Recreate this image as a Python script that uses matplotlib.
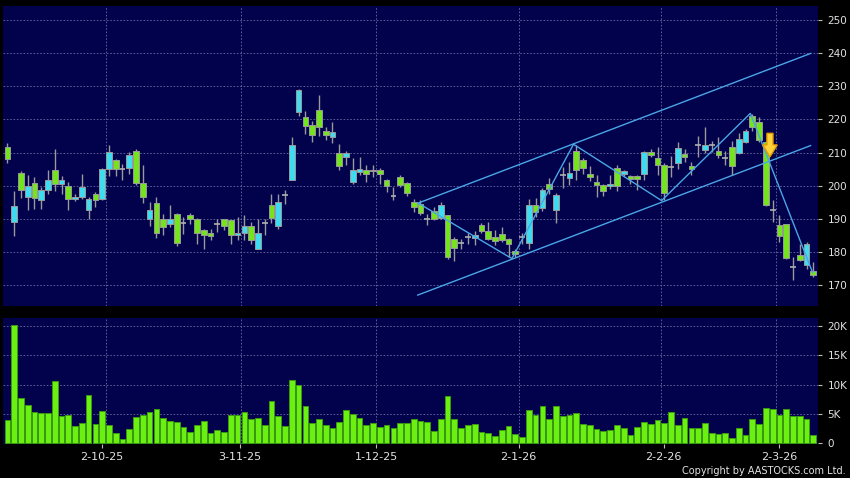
import numpy as np
import matplotlib
matplotlib.use("Agg")
import matplotlib.pyplot as plt
from matplotlib.patches import Polygon

# daily OHLC (one entry per trading day)
opens = [211.8, 188.9, 203.9, 196.6, 200.9, 195.8, 198.6, 204.8, 200.6, 199.9,
         196.0, 196.6, 192.8, 197.6, 196.1, 205.1, 207.8, 205.1, 205.4, 210.6,
         200.9, 190.1, 194.9, 190.1, 188.3, 191.5, 188.6, 191.1, 190.1, 186.5,
         185.8, 188.3, 189.8, 189.5, 185.0, 185.8, 187.9, 181.0, 188.7, 194.3,
         187.7, 197.3, 201.8, 222.1, 220.6, 218.3, 222.8, 216.6, 214.6, 209.9,
         208.6, 201.1, 204.1, 204.8, 204.5, 204.8, 201.8, 197.0, 202.6, 200.9,
         195.0, 194.6, 190.1, 192.4, 190.4, 191.1, 184.0, 182.7, 184.5, 184.3,
         188.0, 186.4, 184.5, 185.5, 184.0, 180.2, 184.5, 182.7, 194.3, 193.4,
         200.6, 192.8, 203.1, 202.4, 210.6, 207.6, 203.6, 201.1, 200.1, 199.8,
         205.3, 203.4, 203.0, 203.0, 203.4, 210.1, 208.3, 206.3, 205.6, 206.8,
         209.5, 205.8, 212.3, 210.8, 212.3, 210.4, 208.3, 211.6, 209.9, 213.3,
         221.1, 219.1, 213.1, 192.6, 188.0, 188.3, 175.5, 179.0, 176.2, 174.3]
highs = [212.8, 198.4, 204.3, 203.1, 202.6, 199.6, 204.8, 211.1, 202.8, 201.1,
         197.4, 203.6, 196.5, 198.0, 205.3, 212.4, 208.2, 206.6, 210.1, 211.1,
         206.1, 195.1, 196.6, 191.5, 194.1, 191.8, 190.6, 191.9, 190.3, 187.0,
         187.0, 189.8, 190.0, 189.7, 190.6, 191.1, 189.0, 190.1, 190.1, 197.6,
         197.6, 198.8, 214.8, 229.2, 222.6, 219.6, 227.4, 217.6, 219.1, 212.6,
         210.6, 208.4, 208.8, 206.1, 206.2, 205.4, 202.0, 199.6, 203.1, 201.0,
         196.1, 195.8, 191.5, 193.6, 195.0, 191.3, 184.5, 184.0, 185.7, 186.4,
         188.6, 188.9, 186.5, 187.4, 184.3, 181.0, 185.8, 196.1, 196.3, 199.4,
         202.4, 197.8, 205.6, 207.1, 212.4, 208.3, 205.8, 203.1, 200.6, 203.1,
         206.1, 204.6, 203.3, 203.3, 210.4, 211.0, 211.6, 206.8, 209.1, 213.1,
         211.0, 207.1, 215.1, 217.6, 213.6, 214.8, 210.6, 213.6, 215.9, 217.1,
         221.6, 220.6, 213.5, 195.6, 191.1, 188.5, 178.5, 182.5, 183.0, 177.0]
lows = [206.7, 184.7, 196.4, 192.8, 193.1, 193.1, 197.4, 198.4, 197.4, 192.8,
        195.3, 195.9, 190.1, 193.6, 195.8, 202.9, 202.9, 201.6, 203.4, 200.3,
        194.8, 187.7, 184.3, 185.0, 187.5, 181.7, 185.3, 188.3, 182.5, 181.0,
        183.7, 186.0, 186.5, 182.5, 183.7, 183.5, 182.5, 181.0, 185.0, 188.6,
        186.8, 194.6, 201.8, 221.1, 215.6, 213.3, 215.1, 213.8, 212.8, 204.8,
        206.1, 200.4, 203.1, 201.1, 202.6, 200.6, 198.1, 195.6, 199.6, 196.8,
        192.1, 191.1, 188.0, 189.6, 190.1, 178.0, 177.2, 181.0, 182.5, 182.0,
        185.7, 183.5, 182.2, 183.0, 178.5, 178.5, 182.5, 181.0, 190.5, 192.5,
        197.6, 188.6, 199.4, 200.1, 201.6, 203.4, 201.4, 196.6, 196.8, 199.1,
        198.4, 203.0, 200.6, 198.6, 201.6, 208.7, 203.1, 195.6, 202.6, 205.1,
        207.1, 203.1, 208.6, 209.8, 210.1, 208.4, 206.1, 203.1, 209.5, 213.0,
        216.6, 213.3, 194.0, 189.0, 183.0, 178.0, 171.5, 177.2, 175.0, 172.5]
closes = [208.1, 193.8, 198.8, 200.0, 196.4, 198.6, 201.8, 200.6, 201.8, 196.0,
          196.6, 199.6, 196.1, 195.8, 205.0, 210.1, 205.1, 205.1, 209.4, 200.9,
          196.6, 192.8, 185.7, 187.6, 190.1, 182.8, 188.6, 190.1, 185.6, 185.0,
          184.9, 188.3, 187.7, 185.0, 185.8, 187.7, 183.7, 185.6, 188.7, 190.4,
          195.1, 197.3, 212.3, 228.9, 218.1, 215.3, 217.7, 215.3, 216.1, 205.8,
          209.9, 204.8, 205.1, 203.6, 204.8, 203.6, 200.0, 197.0, 200.3, 197.8,
          193.6, 191.8, 190.1, 190.1, 194.3, 178.5, 181.3, 182.7, 184.5, 185.0,
          186.4, 184.0, 183.3, 183.7, 182.5, 179.3, 184.5, 194.3, 192.1, 198.8,
          199.1, 197.3, 203.1, 203.8, 204.8, 205.4, 202.6, 200.3, 198.4, 200.6,
          199.8, 204.3, 201.9, 202.0, 210.1, 209.4, 206.3, 197.9, 205.6, 211.4,
          208.8, 204.9, 212.3, 212.3, 212.3, 209.3, 208.3, 205.8, 214.1, 216.4,
          217.8, 213.8, 194.3, 192.6, 184.7, 178.3, 175.5, 177.7, 182.3, 173.2]
# volume in thousands of shares
volumes_k = [4.0, 20.1, 7.7, 6.6, 5.3, 5.1, 5.2, 10.6, 4.6, 4.8,
             2.9, 3.4, 8.3, 3.3, 5.5, 3.2, 1.7, 0.7, 2.4, 4.5,
             4.9, 5.4, 5.8, 4.3, 3.8, 3.7, 2.8, 1.9, 3.2, 3.8,
             1.8, 2.3, 2.0, 4.9, 4.9, 5.3, 4.1, 4.3, 3.2, 7.2,
             4.6, 2.9, 10.8, 9.9, 6.4, 3.4, 4.2, 3.1, 2.6, 3.7,
             5.6, 5.0, 4.3, 3.2, 3.5, 2.8, 3.2, 2.7, 3.5, 3.4,
             4.1, 3.8, 3.6, 2.1, 4.1, 8.0, 4.1, 2.7, 3.1, 3.3,
             1.9, 1.75, 1.2, 2.3, 3.0, 1.6, 1.1, 5.6, 4.9, 6.4,
             4.1, 6.4, 4.6, 4.8, 5.2, 3.3, 3.1, 2.4, 2.1, 2.2,
             3.2, 2.7, 1.5, 2.8, 3.6, 3.3, 4.0, 3.4, 5.3, 3.2,
             4.4, 2.7, 2.7, 3.4, 1.8, 1.6, 1.8, 0.85, 2.6, 1.4,
             4.1, 3.3, 6.0, 5.9, 4.9, 5.9, 4.7, 4.7, 4.1, 1.4]

date_labels = ['2-10-25', '3-11-25', '1-12-25', '2-1-26', '2-2-26', '2-3-26']
date_ticks = [14, 34.3, 54.5, 75.5, 96.9, 114]
date_grid = [14.5, 34.5, 54.5, 75.5, 96.5, 113.5]

# trend channel and zigzag drawn on the chart (bar index, price)
upper_x, upper_y = [60.6, 118.6], [194.7, 239.9]
lower_x, lower_y = [60.6, 118.6], [167.0, 212.1]
zigzag_x = [60.7, 74.5, 83.6, 96.6, 109.7, 118.9]
zigzag_y = [194.7, 178.0, 212.5, 195.5, 221.8, 173.8]
arrow_x, arrow_top, arrow_neck, arrow_tip = 112.6, 215.8, 212.3, 208.7

NAVY = '#01014c'
GRID = '#6a6aa6'
UP = '#3ddcf0'
DOWN = '#74e41c'
WICK = '#9a9a9a'
TXT = '#e2e2e2'

o = np.array(opens); h = np.array(highs); l = np.array(lows); c = np.array(closes)
idx = np.arange(len(o))
W = 0.84

fig = plt.figure(figsize=(8.5, 4.78), dpi=100, facecolor='black')
ax = fig.add_axes([0.0041, 0.3598, 0.9579, 0.6276], facecolor=NAVY)
axv = fig.add_axes([0.0041, 0.0711, 0.9579, 0.263], facecolor=NAVY, sharex=ax)

for a in (ax, axv):
    for s in a.spines.values():
        s.set_visible(False)
    for g in date_grid:
        a.axvline(g, color=GRID, lw=0.6, dashes=(2, 2), zorder=0)

for p in range(170, 251, 10):
    ax.axhline(p, color=GRID, lw=0.6, dashes=(2, 2), zorder=0)
for v in range(5000, 20001, 5000):
    axv.axhline(v, color=GRID, lw=0.6, dashes=(2, 2), zorder=0)

# candles
ax.vlines(idx, l, h, color=WICK, lw=1, zorder=2)
doji = o == c
up = (c > o)
dn = (c < o)
ax.bar(idx[up], (c - o)[up], bottom=o[up], width=W, color=UP,
       edgecolor=WICK, linewidth=0.7, zorder=3)
ax.bar(idx[dn], (o - c)[dn], bottom=c[dn], width=W, color=DOWN,
       edgecolor=WICK, linewidth=0.7, zorder=3)
ax.hlines(c[doji], idx[doji] - W / 2, idx[doji] + W / 2, color='#b0b0b0', lw=1.2, zorder=3)

# channel + zigzag
LINE = '#4aa6e6'
ax.plot(upper_x, upper_y, color=LINE, lw=1, zorder=4)
ax.plot(lower_x, lower_y, color=LINE, lw=1, zorder=4)
ax.plot(zigzag_x, zigzag_y, color=LINE, lw=1, zorder=4)

# down arrow marker
sw, hw = 0.45, 1.08
arrow = Polygon([(arrow_x - sw, arrow_top), (arrow_x + sw, arrow_top),
                 (arrow_x + sw, arrow_neck), (arrow_x + hw, arrow_neck),
                 (arrow_x, arrow_tip), (arrow_x - hw, arrow_neck),
                 (arrow_x - sw, arrow_neck)],
                closed=True, facecolor='#ffd23a', edgecolor='#e39a00', lw=1, zorder=6)
ax.add_patch(arrow)

ax.set_xlim(-0.57, 119.65)
ax.set_ylim(163.7, 254.2)
ax.yaxis.tick_right()
ax.set_yticks(range(170, 251, 10))
ax.tick_params(axis='y', colors='#bbbbbb', labelcolor=TXT, labelsize=7.5,
               length=3, width=0.8, pad=4)
ax.tick_params(axis='x', bottom=False, labelbottom=False)

# volume
axv.bar(idx, np.array(volumes_k) * 1000, width=W, color='#6cf012',
        edgecolor='#3a9a12', linewidth=0.7, zorder=3)
axv.set_ylim(-100, 21250)
axv.yaxis.tick_right()
axv.set_yticks([0, 5000, 10000, 15000, 20000])
axv.set_yticklabels(['0', '5K', '10K', '15K', '20K'])
axv.tick_params(axis='y', colors='#bbbbbb', labelcolor=TXT, labelsize=7.5,
                length=3, width=0.8, pad=4)
axv.set_xticks(date_ticks)
axv.set_xticklabels(date_labels)
axv.tick_params(axis='x', colors='#bbbbbb', labelcolor=TXT, labelsize=8,
                length=3, width=0.8, pad=3)

fig.text(0.995, 0.004, 'Copyright by AASTOCKS.com Ltd.', color=TXT,
         fontsize=7, ha='right', va='bottom')

fig.savefig('out.png', dpi=100, facecolor='black')
